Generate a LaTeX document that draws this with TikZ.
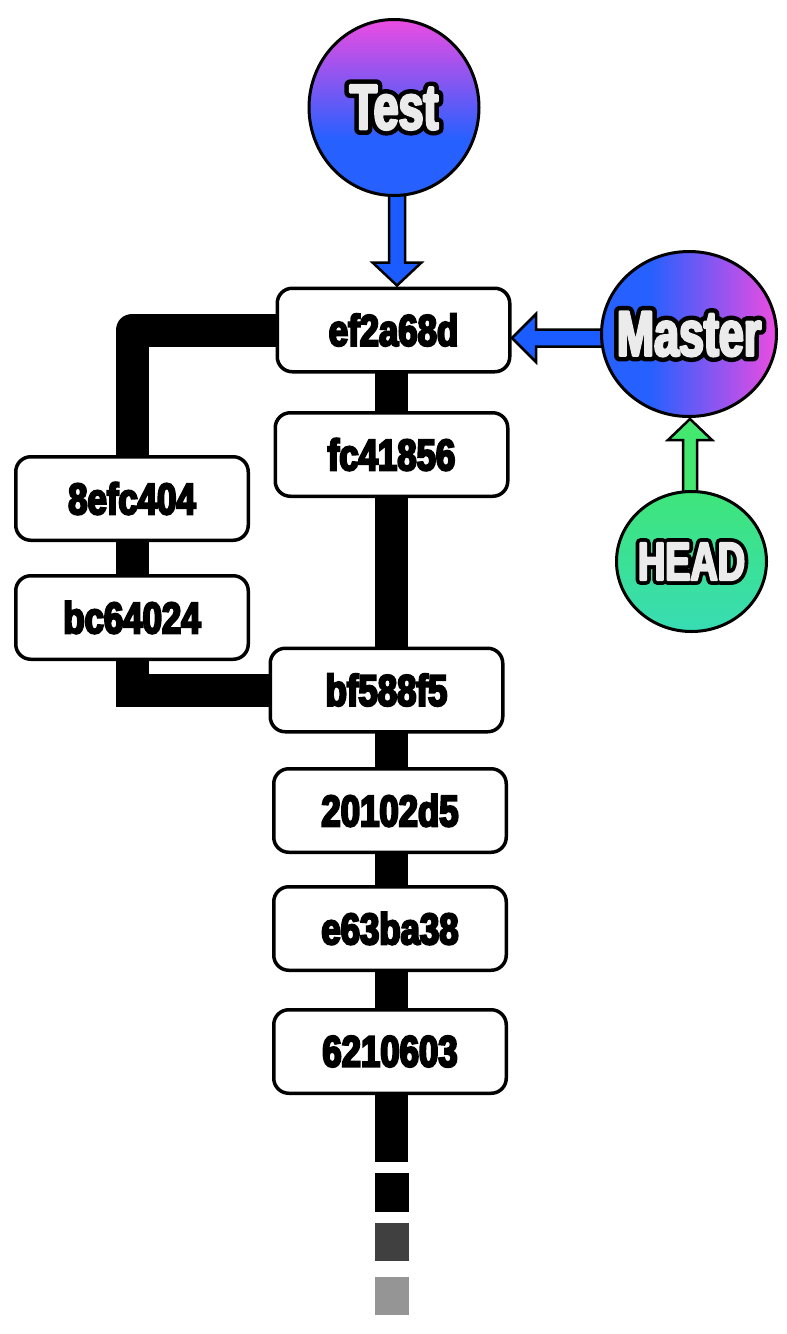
\documentclass[tikz,border=0pt]{standalone}
\usepackage{fontspec}
\usetikzlibrary{calc,shapes.geometric}
\newfontface\cmtfont[FakeStretch=0.79,FakeBold=5]{Liberation Sans Bold}
\newfontface\olfont[FakeStretch=0.7,FakeBold=18]{Liberation Sans Bold}
\newfontface\ilfont[FakeStretch=0.7,FakeBold=4]{Liberation Sans Bold}
\definecolor{tblue}{HTML}{2660FF}
\definecolor{tmag}{HTML}{EC4CE2}
\definecolor{arrblue}{HTML}{1A5CFF}
\definecolor{hgreen}{HTML}{3EE57A}
\definecolor{hteal}{HTML}{38DCB4}
\definecolor{arrgreen}{HTML}{44E870}
\definecolor{lbl}{HTML}{EBEBEB}
\definecolor{dashtwo}{HTML}{404040}
\definecolor{dashthree}{HTML}{959595}
\pgfdeclareverticalshading{testshade}{100bp}{color(0bp)=(tblue); color(41bp)=(tblue); color(75bp)=(tmag); color(100bp)=(tmag)}
\pgfdeclarehorizontalshading{mastershade}{100bp}{color(0bp)=(tblue); color(39bp)=(tblue); color(75bp)=(tmag); color(100bp)=(tmag)}
\newcommand\olabel[2]{{\special{pdf:literal direct 1 j 1 J}\fontsize{#1}{#1}\selectfont\makebox[0pt]{\color{black}\olfont #2}\makebox[0pt]{\color{lbl}\ilfont #2}}}
\pgfdeclarelayer{lines}
\pgfdeclarelayer{arrows}
\pgfsetlayers{lines,arrows,main}
\begin{document}
\begin{tikzpicture}[x=1pt,y=-1pt,
  commit/.style={draw=black, line width=3.5pt, fill=white, rounded corners=15pt,
    minimum width=232.5pt, minimum height=83.5pt, inner sep=0pt,
    font=\fontsize{44}{44}\selectfont\cmtfont},
  branch/.style={draw=black, line width=33pt},
  arrowbody/.style={draw=black, line width=2.5pt, line join=miter},
  bubble/.style={ellipse, draw=black, line width=3pt, inner sep=0pt}]
\useasboundingbox (0,0) rectangle (787,1334);
% commits
\node[commit] (ef)   at (393.5,330)  {ef2a68d};
\node[commit] (fc)   at (391.5,454.5){fc41856};
\node[commit] (ceight) at (132,498.5) {8efc404};
\node[commit] (bc)   at (132,617.5)  {bc64024};
\node[commit] (bf)   at (386.5,690)  {bf588f5};
\node[commit] (ctwo) at (390,810.5)  {20102d5};
\node[commit] (ce)   at (390,928.5)  {e63ba38};
\node[commit] (csix) at (390,1051.5) {6210603};
\coordinate (trunk) at (391.5,0);
\coordinate (tail) at (391.5,1162);
% bubbles
\node[bubble, minimum width=170pt, minimum height=176pt, shade, shading=testshade] (test) at (394,107.5) {\olabel{64}{Test}};
\node[bubble, minimum width=175pt, minimum height=165pt, shade, shading=mastershade] (master) at (689,334) {\olabel{64}{Master}};
\node[bubble, minimum width=150pt, minimum height=140pt, top color=hgreen, bottom color=hteal] (head) at (691.5,561.5) {\olabel{54}{HEAD}};
\begin{pgfonlayer}{lines}
\fill[white] (0,0) rectangle (787,1334);
\draw[branch] (ef.center -| trunk) -- (fc.center -| trunk);
\draw[branch] (fc.center -| trunk) -- (bf.center -| trunk);
\draw[branch] (bf.center -| trunk) -- (ctwo.center -| trunk);
\draw[branch] (ctwo.center -| trunk) -- (ce.center -| trunk);
\draw[branch] (ce.center -| trunk) -- (csix.center -| trunk);
\draw[branch] (csix.center -| trunk) -- (tail);
\draw[branch, line join=round] (ef.center) -| (ceight.center);
\draw[branch] (ceight.center) -- (bc.center);
\draw[branch, line join=miter] (bc.center) |- (bf.center);
\fill[black] ($(tail)+(-17,11)$) rectangle ($(tail)+(17,50)$);
\fill[dashtwo] ($(tail)+(-17,61)$) rectangle ($(tail)+(17,99)$);
\fill[dashthree] ($(tail)+(-17,115)$) rectangle ($(tail)+(17,153)$);
\end{pgfonlayer}
\begin{pgfonlayer}{arrows}
\coordinate (tT) at ($(ef.north)+(3.5,-1)$);
\draw[arrowbody, fill=arrblue] ($(tT)+(-8,-100)$) -- ($(tT)+(-8,-23)$) -- ($(tT)+(-24.5,-23)$) -- (tT) -- ($(tT)+(24.5,-23)$) -- ($(tT)+(8,-23)$) -- ($(tT)+(8,-100)$) -- cycle;
\coordinate (tM) at ($(ef.east)+(0.5,8)$);
\draw[arrowbody, fill=arrblue] (tM) -- ($(tM)+(24,-24)$) -- ($(tM)+(24,-8.5)$) -- ($(tM)+(100,-8.5)$) -- ($(tM)+(100,8.5)$) -- ($(tM)+(24,8.5)$) -- ($(tM)+(24,24)$) -- cycle;
\coordinate (tH) at ($(master.south)+(1,1)$);
\draw[arrowbody, fill=arrgreen] (tH) -- ($(tH)+(22,21)$) -- ($(tH)+(7,21)$) -- ($(tH)+(7,95)$) -- ($(tH)+(-7,95)$) -- ($(tH)+(-7,21)$) -- ($(tH)+(-22,21)$) -- cycle;
\end{pgfonlayer}
\end{tikzpicture}
\end{document}
